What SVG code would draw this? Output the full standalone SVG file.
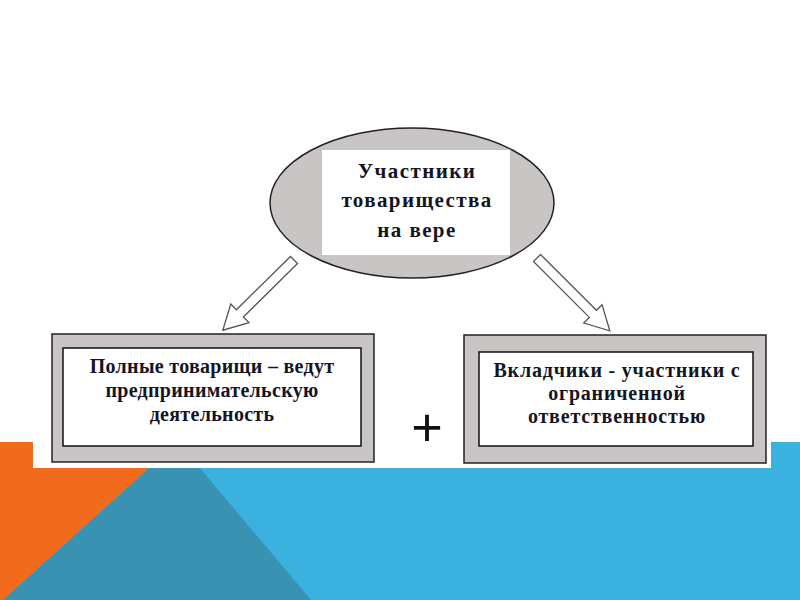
<svg xmlns="http://www.w3.org/2000/svg" width="800" height="600" viewBox="0 0 800 600">
<style>
.t{font-family:"Liberation Serif","Times New Roman",serif;font-weight:bold;fill:#15151f;text-anchor:middle}
.big{font-size:21px;letter-spacing:1.4px}
.sm{font-size:20px;letter-spacing:0.3px}
.outer{fill:#c9c5c5;stroke:#222;stroke-width:1.5}
.inner{fill:#fff;stroke:#111;stroke-width:1.5}
.arrow{fill:#fff;stroke:#555;stroke-width:1.3;stroke-linejoin:miter}
</style>
<rect x="0" y="0" width="800" height="600" fill="#fff"/>
<g id="background">
<rect x="0" y="442" width="800" height="158" fill="#3bb1df"/>
<polygon points="0,442 178,442 3,600 0,600" fill="#f26b1d"/>
<polygon points="178,442 311,600 3,600" fill="#3a92b2"/>
<rect x="33" y="113" width="738" height="355" fill="#fff"/>
</g>
<g id="node-top">
<ellipse cx="412" cy="203" rx="142" ry="75" class="outer"/>
<rect x="322" y="150" width="188" height="105" fill="#fff"/>
<text class="t big" x="417" y="178">Участники</text>
<text class="t big" x="417" y="207">товарищества</text>
<text class="t big" x="417" y="237">на вере</text>
</g>
<g id="connectors">
<polygon class="arrow" transform="translate(294,260) rotate(135.4)" points="0,-5 76,-5 76,-13 100,0 76,13 76,5 0,5"/>
<polygon class="arrow" transform="translate(537,258) rotate(45)" points="0,-5 79,-5 79,-13 103,0 79,13 79,5 0,5"/>
</g>
<g id="node-left">
<rect x="52" y="334" width="322" height="128" class="outer"/>
<rect x="63" y="348" width="298" height="98" class="inner"/>
<text class="t sm" x="212" y="373">Полные товарищи – ведут</text>
<text class="t sm" x="212" y="397">предпринимательскую</text>
<text class="t sm" x="212" y="421">деятельность</text>
</g>
<g id="plus">
<text x="427" y="446" font-family="Liberation Sans, Arial, sans-serif" font-size="54" fill="#111" text-anchor="middle">+</text>
</g>
<g id="node-right">
<rect x="464" y="335" width="302" height="128" class="outer"/>
<rect x="479" y="352" width="274" height="94" class="inner"/>
<text class="t sm" x="617" y="377" style="letter-spacing:0.8px">Вкладчики - участники с</text>
<text class="t sm" x="617" y="400" style="letter-spacing:0.8px">ограниченной</text>
<text class="t sm" x="617" y="423" style="letter-spacing:0.8px">ответственностью</text>
</g>
</svg>
